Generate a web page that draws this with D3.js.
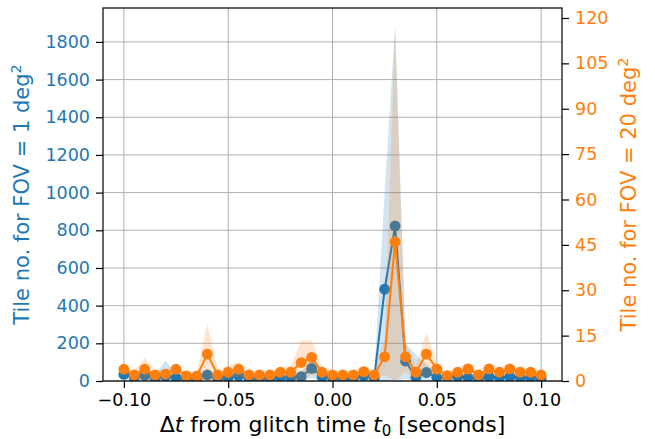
<!DOCTYPE html>
<html>
<head>
<meta charset="utf-8">
<script src="https://cdn.jsdelivr.net/npm/d3@7"></script>
<style>
  html, body { margin: 0; padding: 0; background: #fff; }
  text { font-family: "DejaVu Sans", sans-serif; }
</style>
</head>
<body>
<svg id="chart" width="655" height="439"></svg>
<script>
// ---- data ----
const times = [-0.100, -0.095, -0.090, -0.085, -0.080, -0.075, -0.070, -0.065, -0.060, -0.055,
               -0.050, -0.045, -0.040, -0.035, -0.030, -0.025, -0.020, -0.015, -0.010, -0.005,
                0.000,  0.005,  0.010,  0.015,  0.020,  0.025,  0.030,  0.035,  0.040,  0.045,
                0.050,  0.055,  0.060,  0.065,  0.070,  0.075,  0.080,  0.085,  0.090,  0.095, 0.100];

const tilesFov1 = [35, 18, 30, 15, 25, 18, 15, 15, 32, 15,
                   18, 28, 15, 15, 15, 18, 18, 23, 67, 21,
                   18, 15, 15, 28, 15, 487, 823, 105, 20, 45,
                   20, 23, 23, 18, 15, 23, 18, 23, 18, 18, 15];
const tilesFov1Upper = [55, 35, 50, 30, 110, 35, 30, 30, 55, 30,
                        35, 50, 30, 30, 30, 35, 35, 45, 120, 40,
                        35, 30, 30, 50, 35, 1000, 1886, 200, 140, 90,
                        40, 40, 40, 35, 30, 40, 35, 40, 35, 35, 30];
const tilesFov1Lower = [10, 5, 8, 4, 0, 5, 4, 4, 8, 4,
                        5, 8, 4, 4, 4, 5, 5, 6, 15, 5,
                        5, 4, 4, 6, 4, 0, 0, 10, 0, 5,
                        5, 6, 6, 5, 4, 6, 5, 6, 5, 5, 4];

const tilesFov20 = [3.9, 2.0, 3.9, 2.0, 2.3, 3.9, 1.7, 1.7, 8.9, 2.0,
                    2.9, 3.9, 2.0, 2.0, 2.0, 2.9, 2.9, 6.1, 7.8, 2.9,
                    2.0, 2.0, 2.0, 3.1, 2.0, 8.0, 46.0, 8.0, 2.9, 8.9,
                    4.0, 1.8, 2.9, 4.0, 2.0, 4.0, 2.9, 4.0, 2.9, 2.9, 2.0];
const tilesFov20Upper = [5.5, 3.5, 7.6, 3.5, 4.0, 5.5, 3.0, 3.0, 19.0, 3.5,
                         5.0, 6.4, 3.5, 3.5, 3.5, 4.5, 5.0, 13.3, 13.5, 4.5,
                         3.5, 3.5, 3.5, 5.0, 3.5, 14.0, 117.4, 13.0, 5.0, 16.3,
                         6.0, 3.0, 4.5, 6.0, 3.5, 5.5, 4.5, 5.5, 4.5, 4.5, 3.5];
const tilesFov20Lower = [2.3, 0.5, 0.2, 0.5, 0.6, 2.3, 0.4, 0.4, 0.0, 0.5,
                         0.8, 1.4, 0.5, 0.5, 0.5, 1.3, 0.8, 0.0, 2.1, 1.3,
                         0.5, 0.5, 0.5, 1.2, 0.5, 2.0, 0.0, 3.0, 0.8, 1.5,
                         2.0, 0.6, 1.3, 2.0, 0.5, 2.5, 1.3, 2.5, 1.3, 1.3, 0.5];

const xTicks = [-0.10, -0.05, 0.00, 0.05, 0.10];
const leftTicks = [0, 200, 400, 600, 800, 1000, 1200, 1400, 1600, 1800];
const rightTicks = [0, 15, 30, 45, 60, 75, 90, 105, 120];

// ---- layout ----
const W = 655, H = 439;
const L = 103, R = 562, T = 8, B = 381;
const blue = "#1f77b4", orange = "#ff7f0e";

const svg = d3.select("#chart");
const x = d3.scaleLinear().domain([-0.11, 0.11]).range([L, R]);
const yL = d3.scaleLinear().domain([0, 1980]).range([B, T]);
const yR = d3.scaleLinear().domain([0, 123.3]).range([B, T]);

svg.append("defs").append("clipPath").attr("id", "clip")
  .append("rect").attr("x", L).attr("y", T).attr("width", R - L).attr("height", B - T);

// grid
const grid = svg.append("g").attr("stroke", "#b0b0b0").attr("stroke-width", 1);
grid.selectAll(".gx").data(xTicks).enter().append("line")
  .attr("x1", d => x(d)).attr("x2", d => x(d)).attr("y1", T).attr("y2", B);
grid.selectAll(".gy").data(leftTicks).enter().append("line")
  .attr("x1", L).attr("x2", R).attr("y1", d => yL(d)).attr("y2", d => yL(d));

const plot = svg.append("g").attr("clip-path", "url(#clip)");
const idx = d3.range(times.length);

function drawSeries(vals, up, lo, ys, color) {
  const area = d3.area().x(i => x(times[i])).y0(i => ys(lo[i])).y1(i => ys(up[i]));
  plot.append("path").datum(idx).attr("d", area).attr("fill", color).attr("fill-opacity", 0.2);
  const line = d3.line().x(i => x(times[i])).y(i => ys(vals[i]));
  plot.append("path").datum(idx).attr("d", line).attr("fill", "none")
    .attr("stroke", color).attr("stroke-width", 2).attr("stroke-linejoin", "round");
  plot.append("g").selectAll("circle").data(idx).enter().append("circle")
    .attr("cx", i => x(times[i])).attr("cy", i => ys(vals[i])).attr("r", 5.4).attr("fill", color);
}
drawSeries(tilesFov1, tilesFov1Upper, tilesFov1Lower, yL, blue);
drawSeries(tilesFov20, tilesFov20Upper, tilesFov20Lower, yR, orange);

// axes
const fmtX = d => (d < 0 ? "\u2212" : "") + Math.abs(d).toFixed(2);
const xAxis = svg.append("g").attr("transform", `translate(0,${B})`)
  .call(d3.axisBottom(x).tickValues(xTicks).tickFormat(fmtX).tickSize(7).tickPadding(6));
const yAxisL = svg.append("g").attr("transform", `translate(${L},0)`)
  .call(d3.axisLeft(yL).tickValues(leftTicks).tickFormat(d3.format("d")).tickSize(7).tickPadding(6));
const yAxisR = svg.append("g").attr("transform", `translate(${R},0)`)
  .call(d3.axisRight(yR).tickValues(rightTicks).tickFormat(d3.format("d")).tickSize(7).tickPadding(6));

[xAxis, yAxisL, yAxisR].forEach(g => {
  g.select(".domain").remove();
  g.selectAll(".tick line").attr("stroke", "#000").attr("stroke-width", 1.2);
  g.selectAll(".tick text").style("font-family", "DejaVu Sans").style("font-size", "17.5px");
});
xAxis.selectAll(".tick text").attr("fill", "#000");
yAxisL.selectAll(".tick text").attr("fill", blue);
yAxisR.selectAll(".tick text").attr("fill", orange);

// frame
svg.append("rect").attr("x", L).attr("y", T).attr("width", R - L).attr("height", B - T)
  .attr("fill", "none").attr("stroke", "#000").attr("stroke-width", 1.2);

// labels
const lblL = svg.append("text").attr("transform", `translate(29,${(T + B) / 2}) rotate(-90)`)
  .attr("text-anchor", "middle").attr("fill", blue).style("font-size", "21px");
lblL.append("tspan").text("Tile no. for FOV = 1 deg");
lblL.append("tspan").attr("dy", -8).style("font-size", "14.5px").text("2");

const lblR = svg.append("text").attr("transform", `translate(636,${(T + B) / 2}) rotate(-90)`)
  .attr("text-anchor", "middle").attr("fill", orange).style("font-size", "21px");
lblR.append("tspan").text("Tile no. for FOV = 20 deg");
lblR.append("tspan").attr("dy", -8).style("font-size", "14.5px").text("2");

const lblX = svg.append("text").attr("x", (L + R) / 2).attr("y", 432)
  .attr("text-anchor", "middle").attr("fill", "#000").style("font-size", "22px");
lblX.append("tspan").text("\u0394");
lblX.append("tspan").style("font-style", "italic").text("t");
lblX.append("tspan").text(" from glitch time ");
lblX.append("tspan").style("font-style", "italic").text("t");
lblX.append("tspan").attr("dy", 4).style("font-size", "15px").text("0");
lblX.append("tspan").attr("dy", -4).text(" [seconds]");
</script>
</body>
</html>
